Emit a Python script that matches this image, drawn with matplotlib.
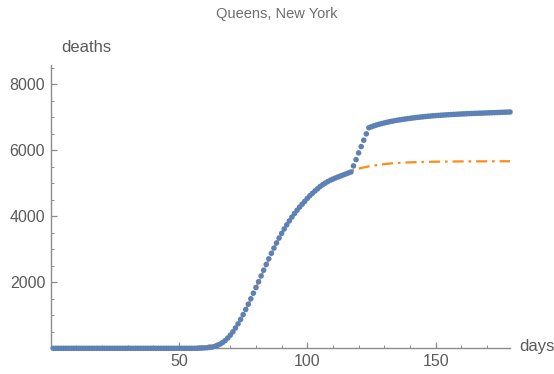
import matplotlib

matplotlib.use("Agg")

import matplotlib.pyplot as plt
from matplotlib.ticker import MultipleLocator

plt.rcParams["font.family"] = ["Liberation Sans", "DejaVu Sans"]

# observed cumulative deaths, one dot per day (days 1..179)
days = list(range(1, 180))
deaths = (
    [0] * 57
    + [5, 8, 12, 18, 27, 40, 60, 88, 125, 175, 235, 310, 400, 500, 615, 740,
       875, 1020, 1175, 1335, 1500, 1670, 1840, 2015, 2190, 2365, 2540, 2710,
       2875, 3035, 3190, 3340, 3480, 3615, 3740, 3860, 3975, 4080, 4180, 4275,
       4365, 4450, 4540, 4620, 4695, 4765, 4830, 4900, 4955, 5005, 5050, 5090,
       5125, 5158, 5190, 5220, 5250, 5280, 5310, 5340]
    + [5524, 5715, 5918, 6109, 6303, 6494, 6680]
    + [6710, 6738, 6763, 6786, 6807, 6826, 6844, 6861, 6877, 6892, 6906, 6919,
       6931, 6943, 6954, 6965, 6975, 6985, 6994, 7003, 7011, 7019, 7027, 7034,
       7041, 7047, 7053, 7059, 7064, 7069, 7074, 7079, 7084, 7088, 7092, 7096,
       7100, 7104, 7108, 7111, 7114, 7117, 7120, 7123, 7126, 7129, 7132, 7135,
       7138, 7141, 7144, 7147, 7150, 7153, 7156]
)

fit_days = [0, 20, 40, 45, 50, 53, 56, 58, 60, 62, 64, 66, 68, 70, 72, 74, 76,
            78, 80, 82, 84, 86, 88, 90, 92, 94, 96, 98, 100, 103, 106, 109, 112,
            115, 118, 121, 124, 128, 132, 137, 143, 150, 160, 170, 180]
fit_deaths = [0, 1, 4, 8, 15, 23, 36, 48, 64, 88, 120, 165, 240, 390, 600, 860,
              1160, 1490, 1830, 2180, 2525, 2860, 3175, 3465, 3725, 3960, 4170,
              4355, 4520, 4735, 4920, 5065, 5185, 5300, 5395, 5460, 5510, 5560,
              5595, 5622, 5640, 5652, 5660, 5663, 5665]

BLUE = "#5E81B5"
ORANGE = "#FF8A14"
GRAY = "#5a5a5a"
AXIS = "#8c8c8c"

fig = plt.figure(figsize=(5.54, 3.74), dpi=100)
ax = fig.add_axes([50.7 / 554, 1 - 348.3 / 374, (510 - 50.7) / 554, (348.3 - 65) / 374])

ax.plot(fit_days, fit_deaths, color=ORANGE, lw=1.6,
        linestyle=(0, (5, 2.2, 1.2, 2.2)), zorder=2)
# scatter keeps sub-pixel dot positions, so the dense runs blend into a smooth band
ax.scatter(days, deaths, s=4.0 ** 2, color=BLUE, edgecolors="none", zorder=3,
           clip_on=False)

ax.set_xlim(0, 179)
ax.set_ylim(0, 8580)

for side in ("top", "right"):
    ax.spines[side].set_visible(False)
for side in ("left", "bottom"):
    ax.spines[side].set_color(AXIS)
    ax.spines[side].set_linewidth(1.0)

ax.set_xticks([50, 100, 150])
ax.set_yticks([2000, 4000, 6000, 8000])
ax.xaxis.set_minor_locator(MultipleLocator(10))
ax.yaxis.set_minor_locator(MultipleLocator(500))
ax.tick_params(which="major", direction="in", length=4, width=0.9, color=AXIS,
               labelcolor=GRAY, labelsize=11.5, pad=4)
ax.tick_params(which="minor", direction="in", length=2.5, width=0.7, color=AXIS)

fig.text(277 / 554, 1 - 14 / 374, "Queens, New York", ha="center", va="center",
         fontsize=10.5, color="#6e6e6e")
fig.text(86 / 554, 1 - 48 / 374, "deaths", ha="center", va="center",
         fontsize=12, color=GRAY)
fig.text(519 / 554, 1 - 347 / 374, "days", ha="left", va="center",
         fontsize=12, color=GRAY)

fig.savefig("out.png", dpi=100)
